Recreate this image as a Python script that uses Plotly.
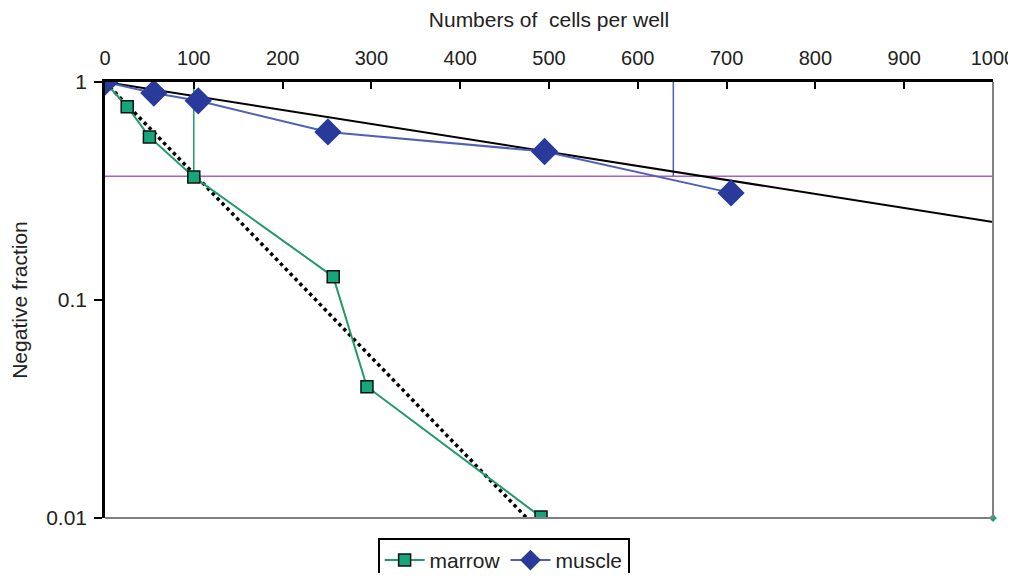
import plotly.graph_objects as go

# Data
marrow_x = [0, 25, 50, 100, 257, 295, 491]
marrow_y = [1.0, 0.77, 0.56, 0.367, 0.128, 0.040, 0.0101]
muscle_x = [0, 55, 105, 251, 495, 705]
muscle_y = [1.0, 0.89, 0.82, 0.59, 0.48, 0.31]
marrow_fit_x = [0, 475]
marrow_fit_y = [1.0, 0.01]
muscle_fit_x = [0, 1000]
muscle_fit_y = [1.0, 0.228]
level_x = [0, 1000]
level_y = [0.37, 0.37]
marrow_drop_x = [100, 100]
marrow_drop_y = [0.37, 1.0]
muscle_drop_x = [640, 640]
muscle_drop_y = [0.37, 1.0]
corner_x = [1000]
corner_y = [0.01]
x_ticks = [0, 100, 200, 300, 400, 500, 600, 700, 800, 900, 1000]
y_ticks = [0.01, 0.1, 1]
y_tick_labels = ["0.01", "0.1", "1"]

GREEN = "#1f9a68"
GREEN_FILL = "#16a67c"
BLUE = "#2a3a9a"
BLUE_LINE = "#5060b8"

fig = go.Figure()

fig.add_trace(go.Scatter(x=level_x, y=level_y, mode="lines",
                         line=dict(color="#b060c0", width=1.5), showlegend=False, hoverinfo="skip"))
fig.add_trace(go.Scatter(x=marrow_drop_x, y=marrow_drop_y, mode="lines",
                         line=dict(color=GREEN, width=1.5), showlegend=False, hoverinfo="skip"))
fig.add_trace(go.Scatter(x=muscle_drop_x, y=muscle_drop_y, mode="lines",
                         line=dict(color=BLUE_LINE, width=1.5), showlegend=False, hoverinfo="skip"))
fig.add_trace(go.Scatter(x=muscle_fit_x, y=muscle_fit_y, mode="lines",
                         line=dict(color="black", width=2), showlegend=False, hoverinfo="skip"))
fig.add_trace(go.Scatter(x=marrow_fit_x, y=marrow_fit_y, mode="lines",
                         line=dict(color="black", width=3.5, dash="dot"), showlegend=False, hoverinfo="skip"))

fig.add_trace(go.Scatter(x=marrow_x, y=marrow_y, mode="lines+markers", name="marrow",
                         line=dict(color=GREEN, width=2),
                         marker=dict(symbol="square", size=12, color=GREEN_FILL,
                                     line=dict(color="#111", width=1.5))))
fig.add_trace(go.Scatter(x=muscle_x, y=muscle_y, mode="lines+markers", name="muscle",
                         line=dict(color=BLUE_LINE, width=2),
                         marker=dict(symbol="diamond", size=21, color=BLUE,
                                     line=dict(color=BLUE, width=0))))
fig.add_trace(go.Scatter(x=corner_x, y=corner_y, mode="markers",
                         marker=dict(symbol="diamond", size=6, color=GREEN_FILL),
                         showlegend=False, hoverinfo="skip", cliponaxis=False))

# Frame: gray bottom and right edges
fig.add_shape(type="line", xref="paper", yref="paper", x0=0, x1=1, y0=0, y1=0,
              line=dict(color="#808080", width=2))
fig.add_shape(type="line", xref="paper", yref="paper", x0=1, x1=1, y0=0, y1=1,
              line=dict(color="#808080", width=2))

fig.add_annotation(x=82, y=0.228, text="1/100", showarrow=False,
                   font=dict(size=21, color="#222"))
fig.add_annotation(x=644, y=0.245, text="1/640", showarrow=False,
                   font=dict(size=21, color="#1010e0"))

fig.update_layout(
    width=1016, height=565,
    margin=dict(l=97, r=31, t=74, b=55),
    paper_bgcolor="white", plot_bgcolor="white",
    font=dict(family="Liberation Sans, Arial, sans-serif", size=21, color="#222"),
    xaxis=dict(side="top", range=[0, 1000], tickvals=x_ticks, ticks="inside", ticklen=7,
               tickwidth=2, tickcolor="black", showline=True, linecolor="black", linewidth=2.5,
               showgrid=False, zeroline=False, automargin=False, tickfont=dict(size=20),
               ticklabelstandoff=6, ticklabeloverflow="allow",
               title=dict(text="Numbers of &nbsp;cells per well", font=dict(size=21), standoff=15)),
    yaxis=dict(type="log", range=[-2, 0], tickvals=y_ticks, ticktext=y_tick_labels,
               ticks="outside", ticklen=8, tickwidth=2, tickcolor="black",
               showline=True, linecolor="black", linewidth=2.5, showgrid=False, zeroline=False,
               automargin=False, tickfont=dict(size=21), ticklabelstandoff=3,
               title=dict(text="Negative fraction", font=dict(size=21), standoff=20)),
    legend=dict(orientation="h", x=0.307, xref="paper", y=0.062, yref="container",
                xanchor="left", yanchor="top",
                bordercolor="black", borderwidth=2, bgcolor="white",
                font=dict(size=21), itemwidth=40),
)

fig.write_html("out.html")
